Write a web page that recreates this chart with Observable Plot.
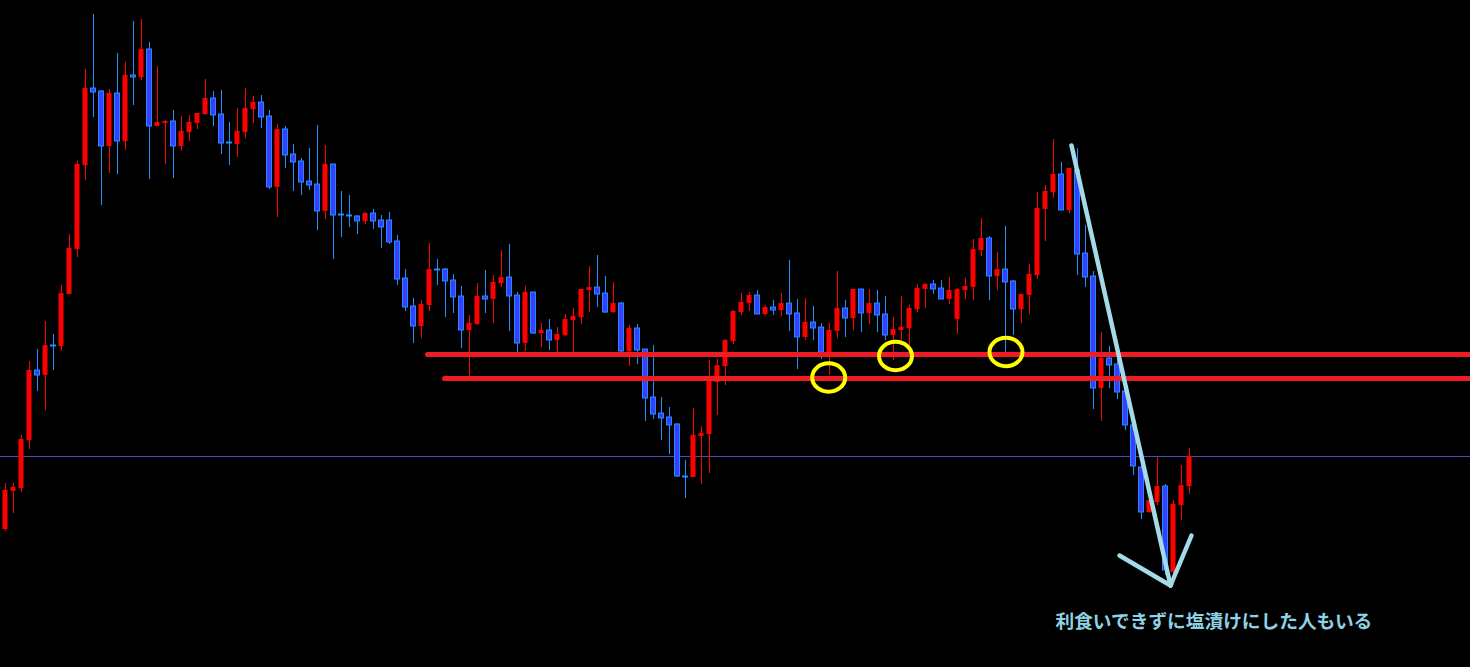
<!DOCTYPE html>
<html>
<head>
<meta charset="utf-8">
<script src="https://cdn.jsdelivr.net/npm/d3@7"></script>
<script src="https://cdn.jsdelivr.net/npm/@observablehq/plot@0.6"></script>
<style>
  html, body { margin: 0; padding: 0; background: #000; overflow: hidden; }
  #chart svg { display: block; }
</style>
</head>
<body>
<div id="chart"></div>
<script>
// Candle OHLC values (arbitrary price units), one entry per bar
const opens  = [171,209,212,260,330,325,355,354,406,451,535,612,609,554,607,559,625,623,651,574,577,579,554,568,577,586,602,586,558,556,568,591,598,584,513,571,546,539,519,516,489,536,486,485,484,479,487,480,480,459,422,394,374,395,431,431,420,404,370,376,404,401,417,423,405,357,408,367,370,360,365,380,383,410,413,407,388,397,349,372,351,303,287,283,276,224,223,264,266,318,334,359,388,397,405,386,393,390,397,387,363,378,373,348,369,392,382,411,387,397,386,365,370,372,391,411,416,412,401,381,410,413,450,462,424,431,419,391,405,425,491,508,526,490,530,447,424,312,342,336,309,275,233,188,198,214,128,195,214];
const highs  = [217,217,265,339,351,379,366,415,466,539,631,686,610,611,647,638,679,681,658,634,580,590,584,585,587,621,609,610,578,592,612,604,605,590,576,574,556,542,552,575,555,536,509,505,485,488,491,485,488,465,431,402,400,457,441,432,426,414,385,417,430,425,450,456,408,414,408,377,381,373,386,392,411,434,445,424,418,398,375,376,351,355,303,293,277,240,292,274,340,341,361,390,407,408,410,395,400,407,440,401,402,394,377,377,429,400,411,411,411,410,404,383,404,395,416,417,420,420,423,412,422,461,482,464,448,474,420,406,436,508,515,561,538,532,552,475,429,368,354,347,315,280,240,205,243,216,200,235,252];
const lows   = [169,187,208,251,309,290,330,349,406,443,520,583,495,527,526,550,595,620,521,574,536,522,549,559,571,585,574,546,535,543,562,577,572,511,483,532,509,505,510,470,481,441,463,473,466,476,471,452,456,415,389,357,362,389,415,383,387,352,324,375,387,377,413,369,348,349,366,353,350,348,364,348,376,388,393,387,387,348,334,336,279,281,260,246,223,202,223,216,227,285,315,356,385,389,386,384,385,384,369,331,360,360,341,325,362,363,370,368,376,368,360,340,355,354,388,392,406,401,396,366,401,400,444,400,410,348,365,377,386,421,459,502,490,487,425,413,291,279,312,301,270,225,181,187,195,125,115,180,206];
const closes = [210,213,261,330,325,355,354,407,452,536,612,608,554,607,559,625,623,651,574,578,579,554,569,578,587,602,585,557,557,569,592,598,583,513,571,545,538,518,515,489,536,485,485,484,479,487,479,473,458,421,393,374,396,431,430,419,403,370,377,404,401,418,423,404,357,408,367,370,360,366,381,384,411,413,406,388,397,349,372,350,302,286,282,275,224,223,265,267,322,335,360,389,398,405,386,393,390,397,386,363,378,372,348,370,392,382,411,387,397,385,365,371,373,392,412,416,411,401,410,411,414,451,462,424,431,418,391,406,426,492,509,526,490,532,446,423,312,342,335,308,275,234,188,200,214,130,196,215,244];

// Annotation levels
const supportLevels = [346, 322];        // two red horizontal lines
const supportStarts = [52.75, 54.875];   // bar index where each line begins
const referenceLevel = 244;              // thin blue line
const circleBars   = [102.9, 111.25, 125.06];
const circleLevels = [323, 344.5, 348.5];
const arrowBars    = [133.25, 145.625, 139.25, 148.25];
const arrowLevels  = [555, 115, 145, 165];
const noteText = "利食いできずに塩漬けにした人もいる";
const noteBar = 131.25, noteLevel = 78;

const bars = opens.map((o, i) => ({i, open: o, high: highs[i], low: lows[i], close: closes[i], up: closes[i] >= o}));
const upBars = bars.filter(d => d.up);
const downBars = bars.filter(d => !d.up);

const W = 1470, H = 667;
const xDomain = [-0.625, 183.125];
const yDomain = [33, 700];

const ellipseSymbol = {
  draw(ctx, size) {
    const r = Math.sqrt(size / Math.PI);
    const rx = r * 1.1, ry = r * 0.95, k = 0.5523;
    ctx.moveTo(rx, 0);
    ctx.bezierCurveTo(rx, ry * k, rx * k, ry, 0, ry);
    ctx.bezierCurveTo(-rx * k, ry, -rx, ry * k, -rx, 0);
    ctx.bezierCurveTo(-rx, -ry * k, -rx * k, -ry, 0, -ry);
    ctx.bezierCurveTo(rx * k, -ry, rx, -ry * k, rx, 0);
    ctx.closePath();
  }
};

const hlines = supportLevels.map((v, k) => ({x1: supportStarts[k], x2: xDomain[1], y: v}));
const circles = circleBars.map((b, k) => ({x: b, y: circleLevels[k]}));
const arrowSegs = [
  {x1: arrowBars[0], y1: arrowLevels[0], x2: arrowBars[1], y2: arrowLevels[1]},
  {x1: arrowBars[2], y1: arrowLevels[2], x2: arrowBars[1], y2: arrowLevels[1]},
  {x1: arrowBars[3], y1: arrowLevels[3], x2: arrowBars[1], y2: arrowLevels[1]}
];

const chart = Plot.plot({
  width: W, height: H,
  margin: 0,
  style: {background: "#000", overflow: "visible"},
  x: {domain: xDomain, axis: null},
  y: {domain: yDomain, axis: null},
  marks: [
    Plot.ruleY([referenceLevel], {stroke: "#4a4ab8", strokeWidth: 1}),
    Plot.ruleX(upBars, {x: "i", y1: "low", y2: "high", stroke: "#ff0000", strokeWidth: 1}),
    Plot.ruleX(downBars, {x: "i", y1: "low", y2: "high", stroke: "#1e90ff", strokeWidth: 1}),
    Plot.rect(upBars, {x1: d => d.i - 0.31, x2: d => d.i + 0.31, y1: "open", y2: "close", fill: "#ff0000"}),
    Plot.rect(downBars, {x1: d => d.i - 0.31, x2: d => d.i + 0.31, y1: "open", y2: "close", fill: "#3c3cff", stroke: "#1e90ff", strokeWidth: 1}),
    Plot.link(hlines, {x1: "x1", x2: "x2", y1: "y", y2: "y", stroke: "#ee1c25", strokeWidth: 5, strokeLinecap: "round"}),
    Plot.dot(circles, {x: "x", y: "y", r: 15, symbol: ellipseSymbol, stroke: "#ffff00", strokeWidth: 4, fill: "none"}),
    Plot.link(arrowSegs, {x1: "x1", y1: "y1", x2: "x2", y2: "y2", stroke: "#a3dbe9", strokeWidth: 4.5, strokeLinecap: "round"}),
    Plot.text([noteText], {x: noteBar, y: noteLevel, text: d => d, textAnchor: "start", fill: "#8fd2e4", fontSize: 18.7, fontWeight: "bold", fontFamily: "'Noto Sans CJK JP', sans-serif"})
  ]
});
document.getElementById("chart").appendChild(chart);
</script>
</body>
</html>
